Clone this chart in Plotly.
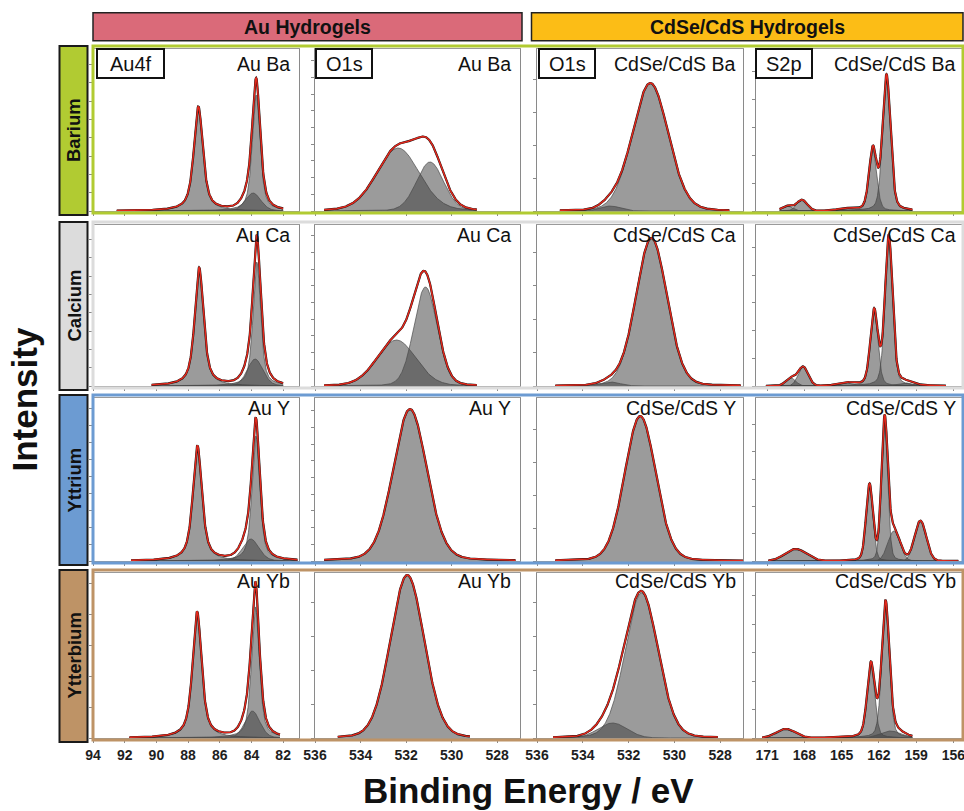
import numpy as np
import plotly.graph_objects as go

# ---------------- data ----------------
ROW_NAMES = ["Barium", "Calcium", "Yttrium", "Ytterbium"]
ROW_TAGS = ["Ba", "Ca", "Y", "Yb"]
GROUP_TITLES = ["Au Hydrogels", "CdSe/CdS Hydrogels"]
COLUMN_SAMPLES = ["Au", "Au", "CdSe/CdS", "CdSe/CdS"]
CORE_LEVELS = ["Au4f", "O1s", "O1s", "S2p"]
X_LIMITS = [(94, 81), (536, 527), (536, 527), (171.9, 155.3)]
X_TICKS = [[94, 92, 90, 88, 86, 84, 82],
           [536, 534, 532, 530, 528],
           [536, 534, 532, 530, 528],
           [171, 168, 165, 162, 159, 156]]

# fitted components per row: (centre eV, height a.u., FWHM eV, Lorentzian fraction)
AU4F_PEAKS = [
    [(87.35, 104, 0.68, 0.7), (83.70, 116, 0.58, 0.6), (83.90, 18, 1.15, 0.2)],
    [(87.30, 118, 0.66, 0.7), (83.66, 124, 0.56, 0.6), (83.77, 27, 1.15, 0.2)],
    [(87.41, 115, 0.68, 0.7), (83.72, 125, 0.58, 0.6), (84.04, 22, 1.20, 0.2)],
    [(87.43, 126, 0.68, 0.7), (83.75, 131, 0.58, 0.6), (83.94, 27, 1.10, 0.2)],
]
AU_O1S_PEAKS = [
    [(532.35, 63, 2.2, 0.15), (530.95, 49, 1.4, 0.1)],
    [(532.42, 46, 2.0, 0.1), (531.15, 99, 1.2, 0.1)],
    [(531.83, 152, 1.75, 0.15)],
    [(531.95, 163, 1.75, 0.1)],
]
CDSE_O1S_PEAKS = [
    [(531.05, 128, 1.85, 0.1), (532.8, 5, 1.0, 0.0)],
    [(531.00, 148, 1.6, 0.1), (532.8, 4, 1.0, 0.0)],
    [(531.49, 145, 1.6, 0.1)],
    [(531.43, 145, 1.7, 0.1), (532.7, 15, 1.5, 0.0)],
]
CDSE_S2P_PEAKS = [
    [(161.38, 135, 0.75, 0.3), (162.48, 61, 0.72, 0.3), (168.2, 11, 1.0, 0.0),
     (169.4, 5, 1.0, 0.0), (164.7, 2, 1.5, 0.0)],
    [(161.20, 149, 0.72, 0.3), (162.38, 74, 0.72, 0.3), (168.1, 19, 0.95, 0.0),
     (169.1, 8, 0.95, 0.0), (164.7, 3, 1.5, 0.0), (159.9, 3, 1.5, 0.0)],
    [(161.54, 136, 0.60, 0.2), (162.75, 76, 0.65, 0.2), (160.79, 30, 1.15, 0.0),
     (158.65, 40, 1.1, 0.0), (168.7, 12, 2.0, 0.0)],
    [(161.46, 130, 0.72, 0.3), (162.64, 72, 0.72, 0.3), (161.06, 7, 2.0, 0.0),
     (169.5, 9, 1.8, 0.0)],
]
# measured energy window of each spectrum (start, end) in eV
AU4F_SCAN = [(92.5, 82.0), (90.3, 82.0), (91.6, 81.1), (91.7, 82.2)]
AU_O1S_SCAN = [(535.6, 528.9), (535.6, 528.9), (535.6, 527.2), (535.0, 529.2)]
CDSE_O1S_SCAN = [(535.0, 527.6), (535.2, 527.1), (535.2, 527.0), (535.3, 528.1)]
CDSE_S2P_SCAN = [(170.0, 159.3), (171.1, 156.6), (170.9, 155.6), (171.4, 159.3)]

PEAKS = [AU4F_PEAKS, AU_O1S_PEAKS, CDSE_O1S_PEAKS, CDSE_S2P_PEAKS]
SCANS = [AU4F_SCAN, AU_O1S_SCAN, CDSE_O1S_SCAN, CDSE_S2P_SCAN]

# ---------------- layout / style ----------------
W, H = 964, 811
FONT = "Liberation Sans, Arial, sans-serif"
ROW_COLORS = ["#B1CB32", "#DCDCDC", "#6C9BD2", "#BE9366"]
HEADER_COLORS = ["#DA6A79", "#FCBD16"]
COL_LEFT = [93, 315, 537, 756]
COL_RIGHT = [299, 520, 743, 962]
ROW_FRAME_TOP = [46, 222, 395, 570]
ROW_FRAME_BOTTOM = [213, 388, 563, 740]
Y_TICK_STEP = [[18.3, 16.7, 33, 28], [18.3, 16.7, 33.5, 27.7],
               [17, 16.7, 33, 27.3], [31, 34, 34, 28.5]]
LABEL_Y = [64, 235, 408, 581]
LABEL_RIGHT = [292, 513, 738, 958]


def px(x):
    return x / W


def py(y):
    return 1 - y / H


def pvoigt(x, c, h, w, eta):
    u = (x - c) / w
    lor = 1.0 / (1.0 + 4.0 * u * u)
    gau = np.exp(-4.0 * np.log(2.0) * u * u)
    return h * (eta * lor + (1.0 - eta) * gau)


fig = go.Figure()
layout = {}
shapes = []
annotations = []

for r in range(4):
    top = ROW_FRAME_TOP[r] + 3
    base = ROW_FRAME_BOTTOM[r] - 2
    span = base - top
    for c in range(4):
        i = r * 4 + c + 1
        sfx = "" if i == 1 else str(i)
        xa, ya = "x" + sfx, "y" + sfx
        x0, x1 = X_LIMITS[c]
        layout["xaxis" + sfx] = dict(
            domain=[px(COL_LEFT[c]), px(COL_RIGHT[c])], range=[x0, x1], anchor=ya,
            tickvals=X_TICKS[c], ticks="outside", ticklen=4, tickwidth=1,
            tickcolor="#8a8a8a", showticklabels=(r == 3), automargin=False,
            ticklabeloverflow="allow",
            tickfont=dict(family=FONT, size=14, color="#1e1e1e", weight="bold"),
            showgrid=False, zeroline=False, showline=True, mirror=True,
            linecolor="#9a9a9a", linewidth=1)
        layout["yaxis" + sfx] = dict(
            domain=[py(base), py(top)], range=[0, span], anchor=xa,
            tick0=0, dtick=Y_TICK_STEP[r][c], ticks="outside", ticklen=3,
            tickcolor="#8a8a8a", showticklabels=False, showgrid=False,
            automargin=False,
            zeroline=False, showline=True, mirror=True, linecolor="#8a8a8a",
            linewidth=1.3)

        s0, s1 = SCANS[c][r]
        xs = np.linspace(s0, s1, 500)
        total = np.zeros_like(xs)
        for (pc, ph, pw, pe) in PEAKS[c][r]:
            comp = pvoigt(xs, pc, ph, pw, pe)
            total += comp
            fig.add_trace(go.Scatter(
                x=xs, y=comp, xaxis=xa, yaxis=ya, mode="lines", fill="tozeroy",
                fillcolor="rgba(63,63,63,0.52)", line=dict(color="#4a4a4a", width=0.7),
                hoverinfo="skip", showlegend=False))
        fig.add_trace(go.Scatter(
            x=xs, y=total, xaxis=xa, yaxis=ya, mode="lines",
            line=dict(color="#111111", width=2.2), hoverinfo="skip", showlegend=False))
        fig.add_trace(go.Scatter(
            x=xs, y=total, xaxis=xa, yaxis=ya, mode="lines",
            line=dict(color="#E2281C", width=1.5), hoverinfo="skip", showlegend=False))

        annotations.append(dict(
            x=px(LABEL_RIGHT[c]), y=py(LABEL_Y[r]), xref="paper", yref="paper",
            text=f"{COLUMN_SAMPLES[c]} {ROW_TAGS[r]}", showarrow=False,
            xanchor="right", yanchor="middle",
            font=dict(family=FONT, size=19.5, color="#111111")))

    # row frame
    shapes.append(dict(type="rect", xref="paper", yref="paper", layer="above",
                       x0=px(93), x1=px(963), y0=py(ROW_FRAME_BOTTOM[r]), y1=py(ROW_FRAME_TOP[r]),
                       line=dict(color=ROW_COLORS[r], width=3)))
    # row label bar
    lb_top = ROW_FRAME_TOP[r]
    lb_bot = ROW_FRAME_BOTTOM[r] + 2
    shapes.append(dict(type="rect", xref="paper", yref="paper", layer="above",
                       x0=px(59.5), x1=px(87.5), y0=py(lb_bot), y1=py(lb_top),
                       fillcolor=ROW_COLORS[r], line=dict(color="#1a1a1a", width=2)))
    annotations.append(dict(
        x=px(73.5), y=py((lb_top + lb_bot) / 2), xref="paper", yref="paper",
        text=ROW_NAMES[r], textangle=-90, showarrow=False,
        xanchor="center", yanchor="middle",
        font=dict(family=FONT, size=18.5, color="#111111", weight="bold")))

# core-level boxes in the first row
BOX_X = [(97, 164), (316, 372), (539, 595), (756, 812)]
for c in range(4):
    bx0, bx1 = BOX_X[c]
    shapes.append(dict(type="rect", xref="paper", yref="paper", layer="above",
                       x0=px(bx0), x1=px(bx1), y0=py(78), y1=py(49),
                       fillcolor="white", line=dict(color="#111111", width=2)))
    annotations.append(dict(
        x=px((bx0 + bx1) / 2), y=py(64), xref="paper", yref="paper",
        text=CORE_LEVELS[c], showarrow=False, xanchor="center", yanchor="middle",
        font=dict(family=FONT, size=20, color="#111111")))

# group headers
HEADER_X = [(93, 522), (531.5, 963)]
for g in range(2):
    hx0, hx1 = HEADER_X[g]
    shapes.append(dict(type="rect", xref="paper", yref="paper", layer="above",
                       x0=px(hx0), x1=px(hx1), y0=py(40.7), y1=py(12.7),
                       fillcolor=HEADER_COLORS[g], line=dict(color="#222222", width=1.5)))
    annotations.append(dict(
        x=px((hx0 + hx1) / 2), y=py(27.5), xref="paper", yref="paper",
        text=GROUP_TITLES[g], showarrow=False, xanchor="center", yanchor="middle",
        font=dict(family=FONT, size=19.5, color="#111111", weight="bold")))

# axis titles
annotations.append(dict(
    x=px(528), y=py(790), xref="paper", yref="paper", text="Binding Energy / eV",
    showarrow=False, xanchor="center", yanchor="middle",
    font=dict(family=FONT, size=35, color="#111111", weight="bold")))
annotations.append(dict(
    x=px(24.5), y=py(400), xref="paper", yref="paper", text="Intensity",
    textangle=-90, showarrow=False, xanchor="center", yanchor="middle",
    font=dict(family=FONT, size=35, color="#111111", weight="bold")))

fig.update_layout(
    width=W, height=H, margin=dict(l=0, r=0, t=0, b=0, pad=0, autoexpand=False),
    paper_bgcolor="white", plot_bgcolor="white",
    shapes=shapes, annotations=annotations, showlegend=False, **layout)

fig.write_html(
    "out.html",
    config={"displayModeBar": False},
    post_script="document.body.style.margin='0px';document.body.style.padding='0px';"
                "document.documentElement.style.overflow='hidden';"
                "document.body.style.overflow='hidden';")
